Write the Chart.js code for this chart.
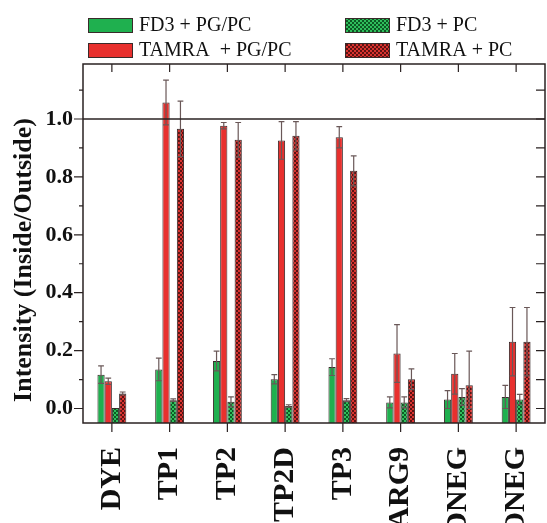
<!DOCTYPE html>
<html>
<head>
<meta charset="utf-8">
<script src="https://cdn.jsdelivr.net/npm/chart.js@4.4.0/dist/chart.umd.min.js"></script>
<style>
html, body { margin: 0; padding: 0; background: #fff; }
#wrap { width: 547px; height: 523px; }
</style>
</head>
<body>
<div id="wrap"><canvas id="chart" width="547" height="523"></canvas></div>
<script>
// chart data
var categories = ["DYE", "TP1", "TP2", "TP2D", "TP3", "ARG9", "DNEG", "ONEG"];
var seriesLabels = ["FD3 + PG/PC", "TAMRA  + PG/PC", "FD3 + PC", "TAMRA + PC"];
var fd3PgPc = [0.117, 0.135, 0.164, 0.101, 0.143, 0.021, 0.031, 0.040];
var fd3PgPcErr = [0.030, 0.039, 0.034, 0.016, 0.029, 0.019, 0.031, 0.040];
var tamraPgPc = [0.094, 1.057, 0.977, 0.926, 0.937, 0.190, 0.120, 0.231];
var tamraPgPcErr = [0.011, 0.077, 0.011, 0.065, 0.037, 0.100, 0.070, 0.118];
var fd3Pc = [0.002, 0.029, 0.023, 0.009, 0.029, 0.021, 0.040, 0.031];
var fd3PcErr = [0.000, 0.004, 0.017, 0.004, 0.005, 0.019, 0.029, 0.018];
var tamraPc = [0.052, 0.966, 0.928, 0.942, 0.821, 0.101, 0.080, 0.231];
var tamraPcErr = [0.005, 0.096, 0.060, 0.049, 0.052, 0.036, 0.118, 0.118];
var yTicks = [0, 0.2, 0.4, 0.6, 0.8, 1.0];
var yMinorTicks = [0, 0.1, 0.2, 0.3, 0.4, 0.5, 0.6, 0.7, 0.8, 0.9, 1.0, 1.1];
var yMin = -0.05;
var yMax = 1.19;
var refLine = 1.0;

var SERIF = '"Liberation Serif", "Times New Roman", serif';
var GREEN = "#1fb04f";
var RED = "#e8302e";

function checker(c1, c2) {
    var pc = document.createElement("canvas");
    pc.width = 4;
    pc.height = 4;
    var g = pc.getContext("2d");
    g.fillStyle = c1;
    g.fillRect(0, 0, 4, 4);
    g.fillStyle = c2;
    g.fillRect(0, 0, 2, 2);
    g.fillRect(2, 2, 2, 2);
    return g.createPattern(pc, "repeat");
}

var greenPat = checker("#0c5a24", "#2fbf5c");
var redPat = checker("#5e1212", "#d8332f");

var framePlugin = {
    id: "frame",
    afterDatasetsDraw: function (chart) {
        var ctx = chart.ctx;
        var ys = chart.scales.y;
        ctx.save();
        ctx.strokeStyle = "#6a5858";
        ctx.lineWidth = 1.2;
        chart.data.datasets.forEach(function (ds, di) {
            var meta = chart.getDatasetMeta(di);
            meta.data.forEach(function (bar, i) {
                var e = ds.err[i];
                if (!e) return;
                var v = ds.data[i];
                var top = ys.getPixelForValue(v + e);
                var bot = ys.getPixelForValue(Math.max(v - e, 0));
                var cw = bar.width * 0.4;
                ctx.beginPath();
                ctx.moveTo(bar.x, bot);
                ctx.lineTo(bar.x, top);
                ctx.moveTo(bar.x - cw, top);
                ctx.lineTo(bar.x + cw, top);
                ctx.moveTo(bar.x - cw, bot);
                ctx.lineTo(bar.x + cw, bot);
                ctx.stroke();
            });
        });
        ctx.restore();
    },
    afterDraw: function (chart) {
        var ctx = chart.ctx;
        var a = chart.chartArea;
        var xs = chart.scales.x;
        var ys = chart.scales.y;
        ctx.save();
        ctx.strokeStyle = "#2a2222";
        ctx.lineWidth = 1.5;

        // reference line at 1.0
        var yr = ys.getPixelForValue(refLine);
        ctx.beginPath();
        ctx.moveTo(a.left, yr);
        ctx.lineTo(a.right, yr);
        ctx.stroke();

        ctx.strokeRect(a.left, a.top, a.right - a.left, a.bottom - a.top);

        // ticks
        ctx.lineWidth = 1.2;
        ctx.beginPath();
        categories.forEach(function (c, i) {
            var x = xs.getPixelForTick(i);
            ctx.moveTo(x, a.bottom);
            ctx.lineTo(x, a.bottom + 9);
            ctx.moveTo(x, a.top);
            ctx.lineTo(x, a.top + 8);
        });
        yMinorTicks.forEach(function (v) {
            var y = ys.getPixelForValue(v);
            var major = yTicks.indexOf(v) >= 0;
            ctx.moveTo(a.left, y);
            ctx.lineTo(a.left - (major ? 9 : 4), y);
            ctx.moveTo(a.right, y);
            ctx.lineTo(a.right - 9, y);
        });
        ctx.stroke();

        // y axis title
        ctx.fillStyle = "#111";
        ctx.font = "bold 26px " + SERIF;
        ctx.textAlign = "center";
        ctx.textBaseline = "middle";
        ctx.translate(24, 260);
        ctx.rotate(-Math.PI / 2);
        ctx.fillText("Intensity (Inside/Outside)", 0, 0);
        ctx.restore();

        // legend, two columns
        ctx.save();
        var pos = [[88, 18], [88, 43], [345, 18], [345, 43]];
        ctx.font = "20px " + SERIF;
        ctx.textAlign = "left";
        ctx.textBaseline = "middle";
        chart.data.datasets.forEach(function (ds, k) {
            var p = pos[k];
            ctx.fillStyle = ds.backgroundColor;
            ctx.fillRect(p[0], p[1], 45, 15);
            ctx.strokeStyle = "#3a2a2a";
            ctx.lineWidth = 1;
            ctx.strokeRect(p[0] + 0.5, p[1] + 0.5, 44, 14);
            ctx.fillStyle = "#111";
            ctx.fillText(ds.label, p[0] + 51, p[1] + 8);
        });
        ctx.restore();
    }
};

function initChart() {
    "use strict";
    var ctx = document.getElementById("chart").getContext("2d");
    var values = [fd3PgPc, tamraPgPc, fd3Pc, tamraPc];
    var errs = [fd3PgPcErr, tamraPgPcErr, fd3PcErr, tamraPcErr];
    var fills = [GREEN, RED, greenPat, redPat];

    var datasets = values.map(function (vals, i) {
        return {
            label: seriesLabels[i],
            data: vals,
            err: errs[i],
            base: yMin,
            backgroundColor: fills[i],
            borderColor: "#3a2a2a",
            borderWidth: 1,
            barPercentage: 1.0,
            categoryPercentage: 0.5
        };
    });

    new Chart(ctx, {
        type: "bar",
        data: { labels: categories, datasets: datasets },
        options: {
            responsive: false,
            animation: false,
            layout: { padding: { top: 64, right: 2, left: 0, bottom: 0 } },
            plugins: {
                legend: { display: false },
                tooltip: { enabled: false }
            },
            scales: {
                x: {
                    offset: true,
                    grid: { display: false, drawTicks: false },
                    border: { display: false },
                    ticks: {
                        autoSkip: false,
                        minRotation: 90,
                        maxRotation: 90,
                        padding: 24,
                        color: "#111",
                        font: { family: SERIF, size: 30, weight: "bold" }
                    },
                    afterFit: function (s) {
                        s.height = 100;
                        s.paddingLeft = 0;
                        s.paddingRight = 0;
                    }
                },
                y: {
                    min: yMin,
                    max: yMax,
                    grid: { display: false, drawTicks: false },
                    border: { display: false },
                    afterBuildTicks: function (s) {
                        s.ticks = yTicks.map(function (v) { return { value: v }; });
                    },
                    ticks: {
                        padding: 10,
                        color: "#111",
                        font: { family: SERIF, size: 22, weight: "bold" },
                        callback: function (v) { return Number(v).toFixed(1); }
                    },
                    afterFit: function (s) {
                        s.width = 83;
                        s.paddingTop = 0;
                        s.paddingBottom = 0;
                    }
                }
            }
        },
        plugins: [framePlugin]
    });
}

initChart();
</script>
</body>
</html>
